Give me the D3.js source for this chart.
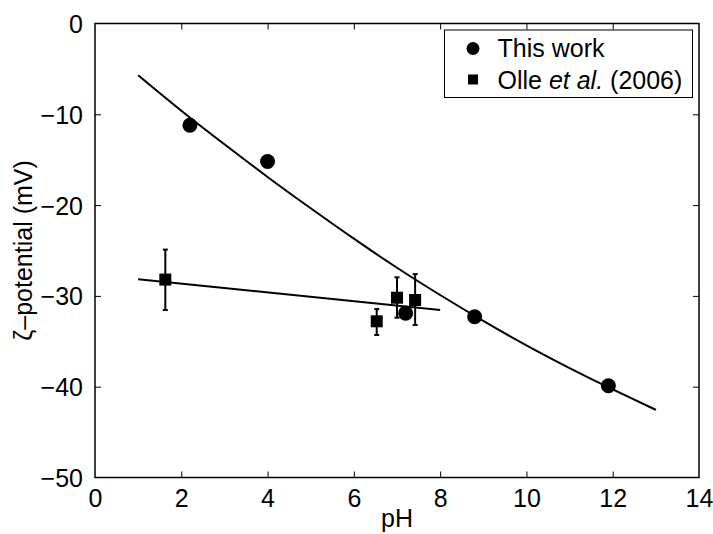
<!DOCTYPE html>
<html>
<head>
<meta charset="utf-8">
<script src="https://cdn.jsdelivr.net/npm/d3@7"></script>
<style>
html,body{margin:0;padding:0;background:#fff;}
svg text{font-family:"Liberation Sans",Arial,Helvetica,sans-serif;fill:#000;}
</style>
</head>
<body>
<svg id="chart" width="713" height="534"></svg>
<script>
// ---- data ----
const thisWorkPH = [2.2, 4.0, 7.2, 8.8, 11.9];
const thisWorkZeta = [-11.2, -15.2, -31.9, -32.3, -39.9];

const ollePH = [1.63, 6.53, 7.0, 7.42];
const olleZeta = [-28.2, -32.8, -30.2, -30.45];
const olleErrLow = [-31.55, -34.3, -32.4, -33.2];
const olleErrHigh = [-24.9, -31.45, -27.95, -27.6];

const fitCurvePH = [1, 2, 3, 4, 5, 6, 7, 8, 9, 10, 11, 12, 13];
const fitCurveZeta = [-5.7, -9.6, -13.3, -16.9, -20.35, -23.7, -26.9, -29.9, -32.75, -35.45, -37.95, -40.3, -42.55];

const fitLinePH = [1.0, 8.0];
const fitLineZeta = [-28.17, -31.55];

const xTicks = [0, 2, 4, 6, 8, 10, 12, 14];
const yTicks = [0, -10, -20, -30, -40, -50];

const legendLabels = ["This work", "Olle et al. (2006)"];

// ---- layout ----
const svg = d3.select("#chart");
const L = 95, R = 699, T = 23.5, B = 477.5;
const x = d3.scaleLinear().domain([0, 14]).range([L, R]);
const y = d3.scaleLinear().domain([-50, 0]).range([B, T]);
const fs = 25;
const minus = s => String(s).replace("-", "\u2212");

// axes box
svg.append("rect").attr("x", L).attr("y", T).attr("width", R - L).attr("height", B - T)
  .attr("fill", "none").attr("stroke", "#000").attr("stroke-width", 1.5);

const tickLen = 6;
const gx = svg.append("g").attr("transform", `translate(0,${B})`)
  .call(d3.axisBottom(x).tickValues(xTicks).tickSize(-tickLen).tickPadding(tickLen + 6).tickFormat(d => minus(d)));
const gxTop = svg.append("g").attr("transform", `translate(0,${T})`)
  .call(d3.axisTop(x).tickValues(xTicks).tickSize(-tickLen).tickFormat(""));
const gy = svg.append("g").attr("transform", `translate(${L},0)`)
  .call(d3.axisLeft(y).tickValues(yTicks).tickSize(-tickLen).tickPadding(tickLen + 6).tickFormat(d => minus(d)));
const gyR = svg.append("g").attr("transform", `translate(${R},0)`)
  .call(d3.axisRight(y).tickValues(yTicks).tickSize(-tickLen).tickFormat(""));

[gx, gxTop, gy, gyR].forEach(g => {
  g.select(".domain").remove();
  g.selectAll(".tick line").attr("stroke", "#000").attr("stroke-width", 1);
  g.selectAll(".tick text").attr("font-size", fs).attr("font-family", "Liberation Sans, Arial, sans-serif").attr("fill", "#000");
});
gx.selectAll(".tick line").filter(d => d === 0 || d === 14).remove();
gxTop.selectAll(".tick line").filter(d => d === 0 || d === 14).remove();
gy.selectAll(".tick line").filter(d => d === 0 || d === -50).remove();
gyR.selectAll(".tick line").filter(d => d === 0 || d === -50).remove();
gx.selectAll(".tick text").attr("dy", "0.71em");
gy.selectAll(".tick text").attr("dy", "0.36em");

// axis labels
svg.append("text").attr("x", (L + R) / 2).attr("y", 527).attr("text-anchor", "middle")
  .attr("font-size", fs).text("pH");
svg.append("text").attr("transform", `translate(32,${(T + B) / 2}) rotate(-90)`)
  .attr("text-anchor", "middle").attr("font-size", fs).text("\u03B6\u2013potential (mV)");

// fit curve
const line = d3.line().x(d => x(d[0])).y(d => y(d[1])).curve(d3.curveNatural);
svg.append("path").datum(d3.zip(fitCurvePH, fitCurveZeta)).attr("d", line)
  .attr("fill", "none").attr("stroke", "#000").attr("stroke-width", 2);
svg.append("path").datum(d3.zip(fitLinePH, fitLineZeta)).attr("d", d3.line().x(d => x(d[0])).y(d => y(d[1])))
  .attr("fill", "none").attr("stroke", "#000").attr("stroke-width", 2);

// error bars
const olle = ollePH.map((p, i) => ({p, z: olleZeta[i], lo: olleErrLow[i], hi: olleErrHigh[i]}));
const eb = svg.append("g");
olle.forEach(d => {
  eb.append("line").attr("x1", x(d.p)).attr("x2", x(d.p)).attr("y1", y(d.lo)).attr("y2", y(d.hi))
    .attr("stroke", "#000").attr("stroke-width", 2);
  [d.lo, d.hi].forEach(v => eb.append("line").attr("x1", x(d.p) - 2.5).attr("x2", x(d.p) + 2.5)
    .attr("y1", y(v)).attr("y2", y(v)).attr("stroke", "#000").attr("stroke-width", 2));
});
// squares
const sq = 12;
svg.append("g").selectAll("rect").data(olle).join("rect")
  .attr("x", d => x(d.p) - sq / 2).attr("y", d => y(d.z) - sq / 2)
  .attr("width", sq).attr("height", sq).attr("fill", "#000");

// circles
svg.append("g").selectAll("circle").data(d3.zip(thisWorkPH, thisWorkZeta)).join("circle")
  .attr("cx", d => x(d[0])).attr("cy", d => y(d[1])).attr("r", 7.5).attr("fill", "#000");

// legend
const lg = svg.append("g");
lg.append("rect").attr("x", 444.5).attr("y", 30).attr("width", 248).attr("height", 67.5)
  .attr("fill", "#fff").attr("stroke", "#000").attr("stroke-width", 1);
lg.append("circle").attr("cx", 473).attr("cy", 48.5).attr("r", 6.5).attr("fill", "#000");
lg.append("rect").attr("x", 473 - 5).attr("y", 79.5 - 5).attr("width", 10).attr("height", 10).attr("fill", "#000");
lg.append("text").attr("x", 497.5).attr("y", 57).attr("font-size", fs).text(legendLabels[0]);
const t2 = lg.append("text").attr("x", 497.5).attr("y", 88.5).attr("font-size", fs);
t2.append("tspan").text("Olle ");
t2.append("tspan").attr("font-style", "italic").text("et al.");
t2.append("tspan").text(" (2006)");
</script>
</body>
</html>
